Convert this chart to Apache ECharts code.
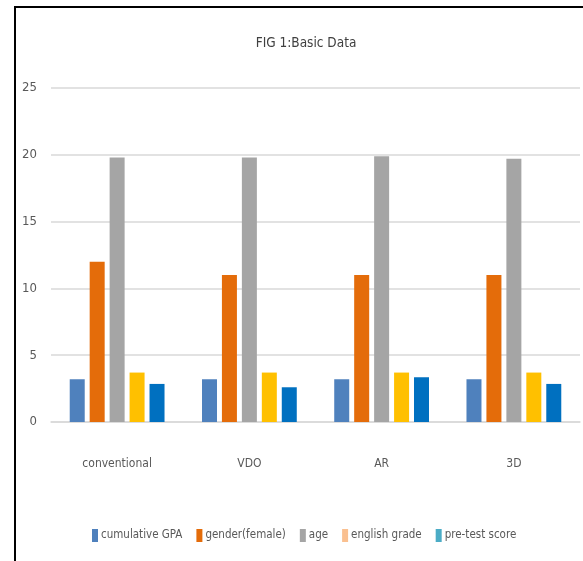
<!DOCTYPE html>
<html>
<head>
<meta charset="utf-8">
<script src="https://cdn.jsdelivr.net/npm/echarts@6/dist/echarts.min.js"></script>
<style>
html,body{margin:0;padding:0;background:#fff;}
#c{width:583px;height:561px;}
</style>
</head>
<body>
<div id="c"></div>
<script>
var categories = ['conventional', 'VDO', 'AR', '3D'];
var seriesNames = ['cumulative GPA', 'gender(female)', 'age', 'english grade', 'pre-test score'];
var cumulativeGPA = [3.2, 3.2, 3.2, 3.2];
var genderFemale = [12, 11, 11, 11];
var age = [19.8, 19.8, 19.9, 19.7];
var englishGrade = [3.7, 3.7, 3.7, 3.7];
var preTestScore = [2.85, 2.6, 3.35, 2.85];
var yTicks = [0, 5, 10, 15, 20, 25];

var barColors = ['#4F81BD', '#E46C0A', '#A5A5A5', '#FFC000', '#0070C0'];
var legendColors = ['#4F81BD', '#E46C0A', '#A5A5A5', '#FAC090', '#4BACC6'];
var values = [cumulativeGPA, genderFemale, age, englishGrade, preTestScore];
var font = '"Liberation Sans Narrow", "DejaVu Sans Condensed", sans-serif';

var chart = echarts.init(document.getElementById('c'), null, {renderer: 'canvas'});
chart.setOption({
  animation: false,
  backgroundColor: '#fff',
  title: {
    text: 'FIG 1:Basic Data',
    left: 301, top: 31, textAlign: 'center',
    textStyle: {fontFamily: font, fontSize: 13.5, fontWeight: 'normal', color: '#404040'}
  },
  legend: {
    data: seriesNames.map(function (n, i) { return {name: n, itemStyle: {color: legendColors[i]}}; }),
    left: 87, top: 524, width: 496,
    icon: 'rect', itemWidth: 6, itemHeight: 13, itemGap: 14,
    textStyle: {fontFamily: font, fontSize: 11.5, color: '#595959', padding: [0, 0, 0, -2]}
  },
  grid: {left: 51, right: 3, top: 88, bottom: 139, containLabel: false},
  xAxis: {
    type: 'category', data: categories,
    axisLine: {lineStyle: {color: '#D9D9D9', width: 1.5}},
    axisTick: {show: false},
    axisLabel: {margin: 36, fontFamily: font, fontSize: 12, color: '#595959'}
  },
  yAxis: {
    type: 'value', min: yTicks[0], max: yTicks[yTicks.length - 1], interval: 5,
    axisLine: {show: false}, axisTick: {show: false},
    splitLine: {lineStyle: {color: '#D9D9D9', width: 1.5}},
    axisLabel: {margin: 14, fontFamily: font, fontSize: 13, color: '#595959'}
  },
  graphic: [{
    type: 'polyline', silent: true,
    shape: {points: [[15, 561], [15, 7], [583, 7]]},
    style: {stroke: '#000', lineWidth: 2, fill: null}
  }],
  series: seriesNames.map(function (n, i) {
    return {
      name: n, type: 'bar', data: values[i],
      barWidth: 15, barGap: '33%',
      itemStyle: {color: barColors[i]}
    };
  })
});
</script>
</body>
</html>
